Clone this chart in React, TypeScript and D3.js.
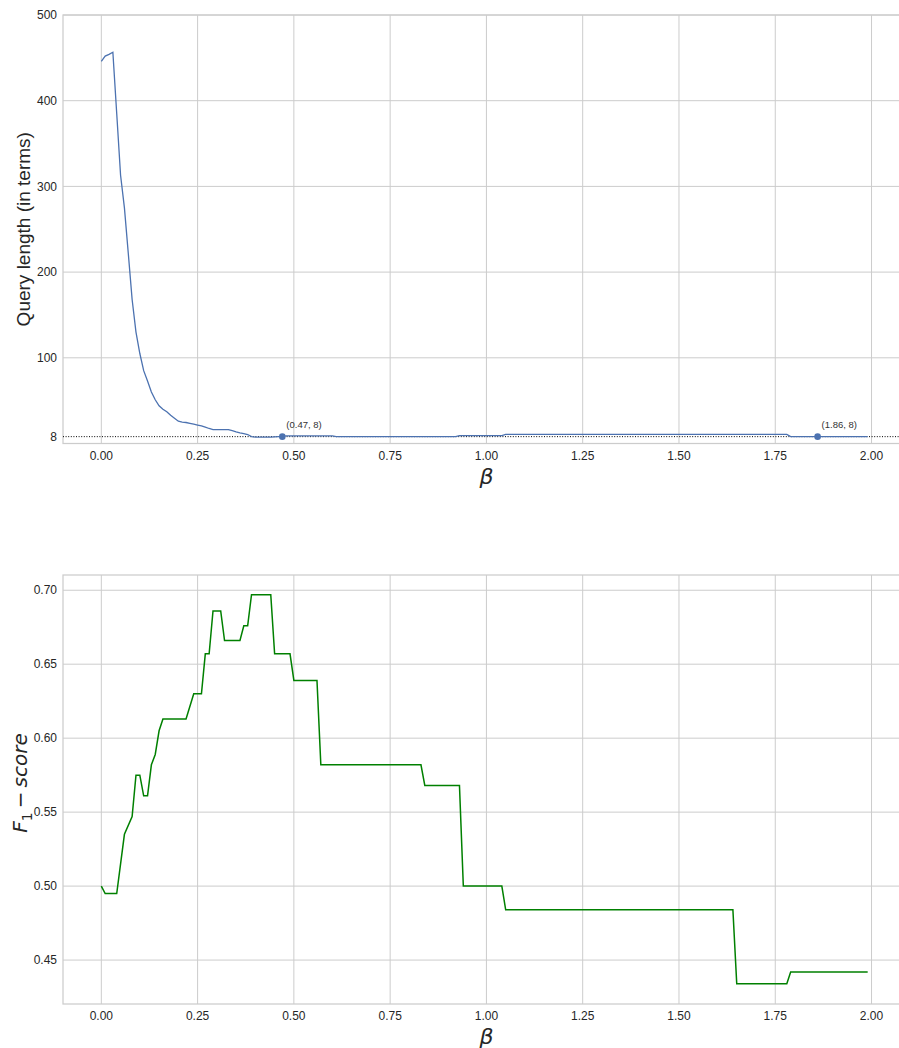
import * as d3 from 'd3'

// beta values and query length (top panel)
const queryBeta = [0, 0.01, 0.02, 0.03, 0.04, 0.05, 0.06, 0.07, 0.08, 0.09, 0.10, 0.11, 0.12, 0.13, 0.14, 0.15, 0.16, 0.17, 0.18, 0.19, 0.20, 0.21, 0.22, 0.23, 0.24, 0.25, 0.26, 0.27, 0.28, 0.29, 0.33, 0.34, 0.35, 0.36, 0.37, 0.38, 0.39, 0.40, 0.44, 0.45, 0.46, 0.47, 0.48, 0.60, 0.61, 0.92, 0.93, 1.04, 1.05, 1.78, 1.79, 1.99]
const queryLength = [446, 452, 454, 456.5, 385, 313, 275, 222, 168, 130, 105, 85, 73, 60, 51, 44, 40, 37, 33, 29.5, 26, 25, 24.5, 23.5, 22.5, 21.5, 20.5, 19, 17.5, 16.3, 16.3, 15, 13.5, 12.4, 11.5, 10.5, 8, 7.4, 7.4, 7.8, 8, 8, 8.8, 8.8, 8, 8, 9.3, 9.3, 10.6, 10.6, 8, 8]

// marked points on the query curve
const markedBeta = [0.47, 1.86]
const markedLength = [8, 8]
const targetLength = 8

// F1-score (bottom panel)
const f1Beta = [0, 0.01, 0.04, 0.06, 0.08, 0.09, 0.10, 0.11, 0.12, 0.13, 0.14, 0.15, 0.16, 0.22, 0.24, 0.26, 0.27, 0.28, 0.29, 0.31, 0.32, 0.36, 0.37, 0.38, 0.39, 0.44, 0.45, 0.49, 0.50, 0.56, 0.57, 0.83, 0.84, 0.93, 0.94, 1.04, 1.05, 1.64, 1.65, 1.78, 1.79, 1.99]
const f1Score = [0.500, 0.495, 0.495, 0.535, 0.547, 0.575, 0.575, 0.561, 0.561, 0.582, 0.589, 0.605, 0.613, 0.613, 0.630, 0.630, 0.657, 0.657, 0.686, 0.686, 0.666, 0.666, 0.676, 0.676, 0.697, 0.697, 0.657, 0.657, 0.639, 0.639, 0.582, 0.582, 0.568, 0.568, 0.500, 0.500, 0.484, 0.484, 0.434, 0.434, 0.442, 0.442]

const xTicks = [0, 0.25, 0.5, 0.75, 1, 1.25, 1.5, 1.75, 2]
const queryTicks = [8, 100, 200, 300, 400, 500]
const f1Ticks = [0.45, 0.5, 0.55, 0.6, 0.65, 0.7]

const W = 899
const H = 1048
const GRID = '#cccccc'
const TEXT = '#262626'
const TICK_FONT = '"Liberation Sans", Arial, sans-serif'
const MATH_FONT = '"DejaVu Sans", sans-serif'

const left = 63
const right = 906

const x = d3.scaleLinear().domain([-0.0995, 2.0895]).range([left, right])
const yTop = d3.scaleLinear().domain([0, 500]).range([443.5, 15])
const yBot = d3.scaleLinear().domain([0.4203, 0.7103]).range([1004, 575])

function Frame({ y, ticks, fmt, gridTicks }) {
  const [y0, y1] = y.range()
  return (
    <g>
      {xTicks.map(t => (
        <line key={'vx' + t} x1={x(t)} x2={x(t)} y1={y1} y2={y0} stroke={GRID} strokeWidth={1} />
      ))}
      {gridTicks.map(t => (
        <line key={'hy' + t} x1={left} x2={right} y1={y(t)} y2={y(t)} stroke={GRID} strokeWidth={1} />
      ))}
      <rect x={left} y={y1} width={right - left} height={y0 - y1} fill="none" stroke={GRID} strokeWidth={1.25} />
      {xTicks.map(t => (
        <text key={'lx' + t} x={x(t)} y={y0 + 16} textAnchor="middle" fontFamily={TICK_FONT} fontSize={12} fill={TEXT}>
          {t.toFixed(2)}
        </text>
      ))}
      {ticks.map(t => (
        <text key={'ly' + t} x={left - 6} y={y(t)} dy="0.35em" textAnchor="end" fontFamily={TICK_FONT} fontSize={12} fill={TEXT}>
          {fmt(t)}
        </text>
      ))}
      <text x={x(1)} y={y0 + 40} textAnchor="middle" fontFamily={MATH_FONT} fontStyle="italic" fontSize={22} fill={TEXT}>
        β
      </text>
    </g>
  )
}

export default function App() {
  const topLine = d3.line<number>()
    .x((d, i) => x(queryBeta[i]))
    .y(d => yTop(d))
  const botLine = d3.line<number>()
    .x((d, i) => x(f1Beta[i]))
    .y(d => yBot(d))

  return (
    <svg width={W} height={H} style={{ position: 'absolute', left: 0, top: 0, background: '#fff' }}>
      {/* top panel: query length */}
      <Frame y={yTop} ticks={queryTicks} fmt={t => String(t)} gridTicks={queryTicks.filter(t => t !== targetLength)} />
      <line x1={left} x2={right} y1={yTop(targetLength)} y2={yTop(targetLength)} stroke="#000" strokeWidth={1} strokeDasharray="1,1.6" />
      <path d={topLine(queryLength)} fill="none" stroke="#4c72b0" strokeWidth={1.3} />
      {markedBeta.map((b, i) => (
        <g key={'m' + b}>
          <circle cx={x(b)} cy={yTop(markedLength[i])} r={3.3} fill="#4c72b0" />
          <text x={x(b) + 4} y={yTop(markedLength[i]) - 9} fontFamily={TICK_FONT} fontSize={9.5} fill="#333">
            {`(${b.toFixed(2)}, ${markedLength[i]})`}
          </text>
        </g>
      ))}
      <text transform={`translate(30,${(yTop.range()[0] + yTop.range()[1]) / 2}) rotate(-90)`} textAnchor="middle"
        fontFamily={TICK_FONT} fontSize={19} fill={TEXT}>
        Query length (in terms)
      </text>

      {/* bottom panel: F1-score */}
      <Frame y={yBot} ticks={f1Ticks} fmt={t => t.toFixed(2)} gridTicks={f1Ticks} />
      <path d={botLine(f1Score)} fill="none" stroke="#008000" strokeWidth={1.5} />
      <text transform={`translate(27,783) rotate(-90)`} textAnchor="middle"
        fontFamily={MATH_FONT} fontSize={20} fill={TEXT}>
        <tspan fontStyle="italic">F</tspan>
        <tspan fontSize={14} dy={5}>1</tspan>
        <tspan dy={-5} dx={4}>−</tspan>
        <tspan fontStyle="italic" dx={4}>score</tspan>
      </text>
    </svg>
  )
}
